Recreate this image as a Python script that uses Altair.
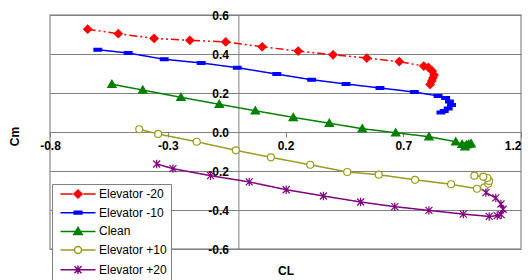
import altair as alt
import pandas as pd

series_names = ["Elevator -20", "Elevator -10", "Clean", "Elevator +10", "Elevator +20"]

em20_cl = [-0.640, -0.510, -0.358, -0.206, -0.054, 0.101, 0.254, 0.402, 0.545, 0.683, 0.787, 0.807, 0.823, 0.831, 0.826, 0.821, 0.814]
em20_cm = [0.527, 0.504, 0.480, 0.470, 0.462, 0.437, 0.415, 0.396, 0.379, 0.361, 0.338, 0.331, 0.313, 0.292, 0.277, 0.262, 0.244]

em10_cl = [-0.597, -0.468, -0.315, -0.158, -0.005, 0.163, 0.311, 0.457, 0.601, 0.747, 0.848, 0.880, 0.896, 0.905, 0.891, 0.874, 0.860]
em10_cm = [0.422, 0.405, 0.373, 0.354, 0.330, 0.297, 0.268, 0.246, 0.226, 0.205, 0.185, 0.174, 0.156, 0.138, 0.121, 0.108, 0.100]

clean_cl = [-0.537, -0.406, -0.244, -0.081, 0.072, 0.233, 0.386, 0.526, 0.668, 0.809, 0.923, 0.950, 0.962, 0.968, 0.978, 0.988]
clean_cm = [0.245, 0.215, 0.178, 0.142, 0.109, 0.075, 0.045, 0.017, -0.004, -0.024, -0.050, -0.063, -0.075, -0.066, -0.062, -0.060]

ep10_cl = [-0.421, -0.341, -0.177, -0.011, 0.138, 0.305, 0.462, 0.596, 0.750, 0.903, 1.013, 1.044, 1.061, 1.064, 1.057, 1.040, 1.002]
ep10_cm = [0.014, -0.010, -0.050, -0.094, -0.130, -0.168, -0.205, -0.219, -0.245, -0.268, -0.291, -0.284, -0.266, -0.251, -0.236, -0.229, -0.224]

ep20_cl = [-0.347, -0.278, -0.118, 0.046, 0.203, 0.361, 0.519, 0.664, 0.809, 0.955, 1.065, 1.099, 1.116, 1.124, 1.115, 1.093, 1.051]
ep20_cm = [-0.164, -0.188, -0.224, -0.256, -0.296, -0.328, -0.359, -0.383, -0.402, -0.421, -0.433, -0.429, -0.424, -0.396, -0.369, -0.338, -0.311]

x_ticks = [-0.8, -0.3, 0.2, 0.7, 1.2]
y_ticks = [-0.6, -0.4, -0.2, 0.0, 0.2, 0.4, 0.6]

line_colors = ["#FF0000", "#0000FF", "#008000", "#9B9B1E", "#800080"]
fill_colors = ["#FF0000", "#0000FF", "#008000", "#FFFFFF", "#800080"]
dashes = [[8, 3, 2, 3, 2, 3], [1, 0], [1, 0], [1, 0], [1, 0]]

marker_paths = [
    "M0,-1.15L1.15,0L0,1.15L-1.15,0Z",
    "M-1.1,-0.4L1.1,-0.4L1.1,0.4L-1.1,0.4Z",
    "M0,-1.15L1.2,0.9L-1.2,0.9Z",
    "circle",
    "M-1,-1L1,1M-1,1L1,-1M0,-1.2L0,1.2",
]
legend_paths = [
    "M-5,0L-1.5,0M1.5,0L5,0M0,-1.15L1.15,0L0,1.15L-1.15,0Z",
    "M-5,0L5,0M-1.1,-0.4L1.1,-0.4L1.1,0.4L-1.1,0.4Z",
    "M-5,0L5,0M0,-1.15L1.2,0.9L-1.2,0.9Z",
    "M-5,0L-1,0M1,0L5,0M1,0A1,1,0,1,1,-1,0A1,1,0,1,1,1,0Z",
    "M-5,0L5,0M-1,-1L1,1M-1,1L1,-1M0,-1.2L0,1.2",
]

rows = []
for name, xs, ys in zip(series_names,
                        [em20_cl, em10_cl, clean_cl, ep10_cl, ep20_cl],
                        [em20_cm, em10_cm, clean_cm, ep10_cm, ep20_cm]):
    for i, (a, b) in enumerate(zip(xs, ys)):
        rows.append({"series": name, "i": i, "CL": a, "Cm": b})
df = pd.DataFrame(rows)

label_expr = "replace(format(datum.value, '.1f'), '\u2212', '-')"

x_enc = alt.X(
    "CL:Q",
    scale=alt.Scale(domain=[-0.8, 1.2], nice=False, zero=False),
    axis=alt.Axis(
        title="CL", values=x_ticks, labelExpr=label_expr, grid=False, offset=-117,
        domainColor="#808080", tickColor="#808080", tickSize=5,
        labelFont="Arial", labelFontWeight="bold", labelFontSize=12, labelColor="black",
        labelPadding=3, labelFlush=False, labelOverlap=False,
        labelAlign={"condition": {"test": "datum.value > 1.1", "value": "right"}, "value": "center"},
        titleFont="Arial", titleFontWeight="bold", titleFontSize=12, titleColor="black",
        titleY=138, titleBaseline="middle",
    ),
)
y_enc = alt.Y(
    "Cm:Q",
    scale=alt.Scale(domain=[-0.6, 0.6], nice=False, zero=False),
    axis=alt.Axis(
        title="Cm", values=y_ticks, labelExpr=label_expr, grid=True, gridColor="#808080",
        gridWidth=1, offset=-188.4,
        domainColor="#808080", tickColor="#808080", tickSize=5,
        labelFont="Arial", labelFontWeight="bold", labelFontSize=12, labelColor="black",
        labelPadding=5, labelFlush=False, labelOverlap=False,
        titleFont="Arial", titleFontWeight="bold", titleFontSize=12, titleColor="black",
        titleX=-224, titleY=121, titleBaseline="middle", titleAlign="center",
    ),
)

lines = alt.Chart(df).mark_line(strokeWidth=1.5).encode(
    x=x_enc, y=y_enc,
    color=alt.Color("series:N", scale=alt.Scale(domain=series_names, range=line_colors), legend=None),
    strokeDash=alt.StrokeDash("series:N", scale=alt.Scale(domain=series_names, range=dashes), legend=None),
    order=alt.Order("i:Q"),
)

points = alt.Chart(df).mark_point(filled=True, size=49, strokeWidth=1.2, opacity=1).encode(
    x=x_enc, y=y_enc,
    fill=alt.Fill("series:N", scale=alt.Scale(domain=series_names, range=fill_colors), legend=None),
    stroke=alt.Stroke("series:N", scale=alt.Scale(domain=series_names, range=line_colors), legend=None),
    shape=alt.Shape("series:N", scale=alt.Scale(domain=series_names, range=marker_paths), legend=None),
)

leg = alt.Legend(
    title=None, orient="none", legendX=2, legendY=169, fillColor="white",
    strokeColor="#808080", padding=4, cornerRadius=0,
    labelFont="Arial", labelFontSize=12, labelColor="black",
    labelOffset=15, symbolOffset=16, symbolSize=49, symbolStrokeWidth=1.5,
    symbolOpacity=1, rowPadding=4.7, zindex=1,
)

legend_layer = alt.Chart(df).transform_filter("false").mark_point(
    filled=True, size=49, strokeWidth=1.5
).encode(
    x=x_enc, y=y_enc,
    fill=alt.Fill("series:N", scale=alt.Scale(domain=series_names, range=fill_colors), legend=leg),
    stroke=alt.Stroke("series:N", scale=alt.Scale(domain=series_names, range=line_colors), legend=leg),
    shape=alt.Shape("series:N", scale=alt.Scale(domain=series_names, range=legend_paths), legend=leg),
)

chart = alt.layer(lines, points, legend_layer).resolve_scale(
    shape="independent", fill="independent", stroke="independent"
).properties(
    width=471, height=234,
    padding={"left": 42, "top": 7, "right": 1, "bottom": 31},
    autosize=alt.AutoSizeParams(type="none"),
    background="white",
).configure_view(stroke="#a0a0a0", strokeWidth=1.5)

chart.save("out.html", embed_options={"renderer": "svg", "actions": False})
